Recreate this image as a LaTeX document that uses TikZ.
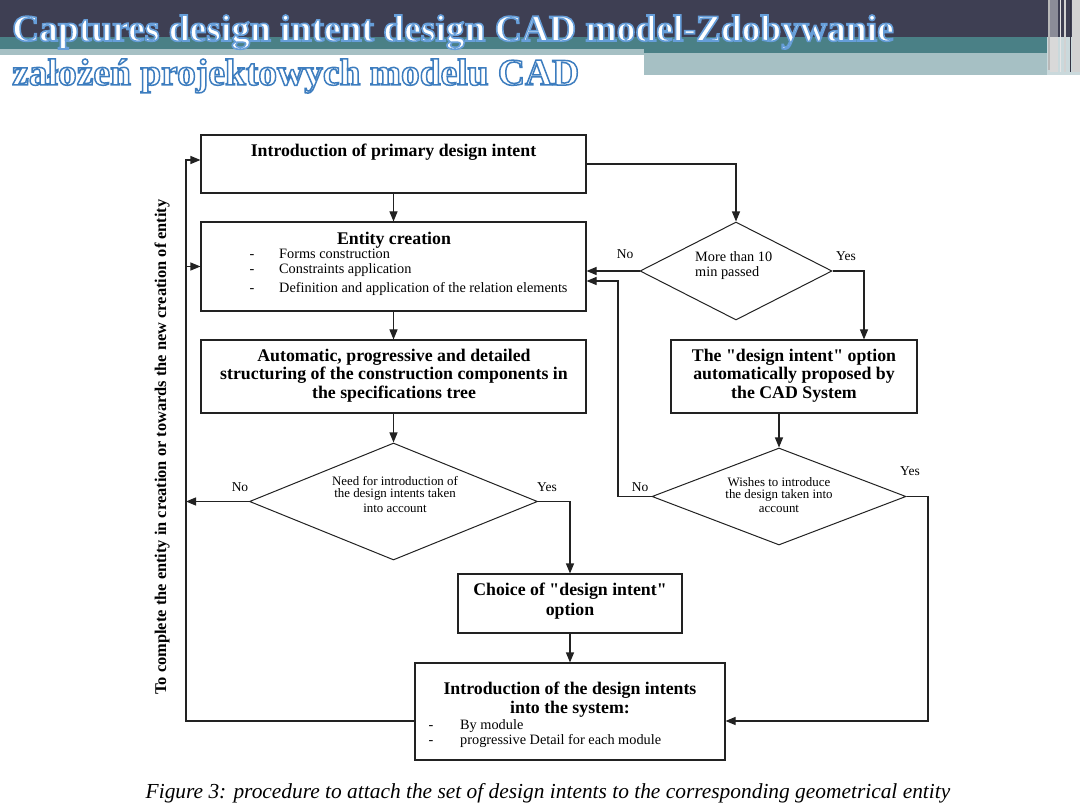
\documentclass[tikz,border=0pt]{standalone}
\usepackage{fontspec}
\setmainfont{Liberation Serif}[Ligatures=TeXOff]
\usetikzlibrary{shapes.geometric,arrows.meta,calc}
\definecolor{hdark}{HTML}{3E3F53}
\definecolor{hteal}{HTML}{4A8086}
\definecolor{hlight}{HTML}{A6C0C4}
\definecolor{ln}{HTML}{222222}
% stroked text: width, R G B, text
\newcommand{\strk}[3]{\special{pdf:literal direct 2 Tr #1 w #2 RG}#3\special{pdf:literal direct 0 Tr}}
\newcommand{\dq}{{\char34}}
\tikzset{
  box/.style={draw=ln,line width=1.1pt,rectangle,inner sep=0,minimum width=#1},
  dia/.style={draw=ln,line width=1pt,diamond,inner sep=0},
  arr/.style={draw=ln,line width=1.1pt,-{Triangle[length=10pt,width=8pt]}},
  btxt/.style={font=\fontsize{17.8}{19}\selectfont\bfseries,inner sep=0,text=black},
  stxt/.style={font=\fontsize{14.3}{15}\selectfont,inner sep=0,text=black},
  dtxt/.style={font=\fontsize{12.9}{14}\selectfont,inner sep=0,text=black},
  lbl/.style={font=\fontsize{13.5}{15}\selectfont,inner sep=0,text=black},
  ttl/.style={font=\fontsize{37.5}{40}\selectfont\bfseries,inner sep=0,text=white,anchor=base west},
}
\begin{document}
\begin{tikzpicture}[x=1pt,y=-1pt]
\useasboundingbox (0,0) rectangle (1080,810);
\fill[white] (0,0) rectangle (1080,810);
% header
\fill[hdark] (0,0) rectangle (1080,37);
\fill[hteal] (0,37) rectangle (1047,53);
\fill[hlight] (0,49) rectangle (644,55);
\fill[hlight] (644,53) rectangle (1047,75);
\fill[hlight!60!white] (1047,37) rectangle (1080,75);
\fill[gray!55] (1048,0) rectangle (1049.5,70);
\fill[hdark!60!white] (1050,0) rectangle (1058,37);
\fill[gray!30] (1050,37) rectangle (1058,72);
\fill[gray!20] (1059.5,0) rectangle (1061,72);
\fill[gray!35] (1064,0) rectangle (1066,72);
\fill[hdark!80!black] (1069.5,0) rectangle (1070.8,72);
\fill[gray!35] (1072,0) rectangle (1080,72);
\node[ttl] (title1) at (12,41) {\strk{1.6}{0.40 0.62 0.85}{Captures design intent design CAD model-Zdobywanie}};
\node[ttl] (title2) at (12,85) {\strk{1.5}{0.24 0.49 0.75}{założeń projektowych modelu CAD}};
% boxes
\node[box=385pt,minimum height=58pt] (b1) at (393.5,164) {};
\node[box=385pt,minimum height=89pt] (b2) at (393.5,266.5) {};
\node[box=385pt,minimum height=73pt] (b3) at (393.5,376.5) {};
\node[box=224pt,minimum height=59pt] (b4) at (570,603.5) {};
\node[box=310pt,minimum height=97pt] (b5) at (570,711.5) {};
\node[box=246pt,minimum height=73pt] (b6) at (794,376.5) {};
\node[dia,minimum width=288pt,minimum height=117pt] (d1) at (393.5,501.5) {};
\node[dia,minimum width=192pt,minimum height=98pt] (d2) at (736,271) {};
\node[dia,minimum width=254pt,minimum height=97pt] (d3) at (779,496.5) {};
% texts
\node[btxt] (tb1) at (393.5,152) {Introduction of primary design intent};
\node[btxt] (tb2) at (394,240) {Entity creation};
\node[stxt,anchor=base] (m1) at (252,259) {-};
\node[stxt,anchor=base] (m2) at (252,274) {-};
\node[stxt,anchor=base] (m3) at (252,293) {-};
\node[stxt,anchor=base west] (i1) at (279,259) {Forms construction};
\node[stxt,anchor=base west] (i2) at (279,274) {Constraints application};
\node[stxt,anchor=base west] (i3) at (279,293) {Definition and application of the relation elements};
\node[btxt] (t3a) at (394,357) {Automatic, progressive and detailed};
\node[btxt] (t3b) at (394,375.5) {structuring of the construction components in};
\node[btxt] (t3c) at (394,394) {the specifications tree};
\node[btxt] (t6a) at (794,357) {The \dq design intent\dq{} option};
\node[btxt] (t6b) at (794,375.5) {automatically proposed by};
\node[btxt] (t6c) at (794,394) {the CAD System};
\node[btxt] (t4a) at (570,591) {Choice of \dq design intent\dq};
\node[btxt] (t4b) at (570,611) {option};
\node[btxt] (t5a) at (570,690) {Introduction of the design intents};
\node[btxt] (t5b) at (570,709) {into the system:};
\node[stxt,anchor=base] (m4) at (431,729) {-};
\node[stxt,anchor=base] (m5) at (431,744) {-};
\node[stxt,anchor=base west] (t5c) at (460,729) {By module};
\node[stxt,anchor=base west] (t5d) at (460,744) {progressive Detail for each module};
\node[dtxt] (td1a) at (395,481) {Need for introduction of};
\node[dtxt] (td1b) at (395,494.5) {the design intents taken};
\node[dtxt] (td1c) at (395,508) {into account};
\node[stxt,anchor=base west] (td2a) at (695,262) {More than 10};
\node[stxt,anchor=base west] (td2b) at (695,277) {min passed};
\node[dtxt] (td3a) at (779,482) {Wishes to introduce};
\node[dtxt] (td3b) at (779,495.5) {the design taken into};
\node[dtxt] (td3c) at (779,509) {account};
\node[lbl] (no2) at (625,254) {No};
\node[lbl] (yes2) at (846,256) {Yes};
\node[lbl] (no1) at (240,487) {No};
\node[lbl] (yes1) at (547,487) {Yes};
\node[lbl] (no3) at (640,487) {No};
\node[lbl] (yes3) at (910,471) {Yes};
\node[font=\fontsize{16.4}{18}\selectfont\bfseries,rotate=90,inner sep=0] (side) at (162,447) {To complete the entity in creation or towards the new creation of entity};
\node[font=\fontsize{21.4}{23}\selectfont\itshape,inner sep=0] (cap) at (548,793) {Figure 3: procedure to attach the set of design intents to the corresponding geometrical entity};
% connectors
\coordinate (lt) at (186,160);
\coordinate (lm) at (186,266.5);
\coordinate (ld) at (186,501.5);
\coordinate (r2) at (618,281);
\coordinate (r3) at (928,721);
\draw[arr] (b1.south) -- (b2.north);
\draw[arr] (b2.south) -- (b3.north);
\draw[arr] (b3.south) -- (d1.north);
\draw[arr] (d1.east) -| (b4.north);
\draw[arr] (d1.west) -- (ld);
\draw[arr] (b4.south) -- (b5.north);
\draw[arr] ([yshift=-9.5pt]b5.west) -| (lt) -- (lt -| b1.west);
\draw[arr] (lm) -- (b2.west);
\draw[arr] (b1.east) -| (d2.north);
\draw[arr] (d2.west) -- (d2.west -| b2.east);
\draw[arr] (d2.east) -| ([xshift=70pt]b6.north);
\draw[arr] ([xshift=-15pt]b6.south) -- (d3.north);
\draw[arr] (d3.west) -| (r2) -- (r2 -| b2.east);
\draw[arr] (d3.east) -| (r3) -- (r3 -| b5.east);
\end{tikzpicture}
\end{document}
